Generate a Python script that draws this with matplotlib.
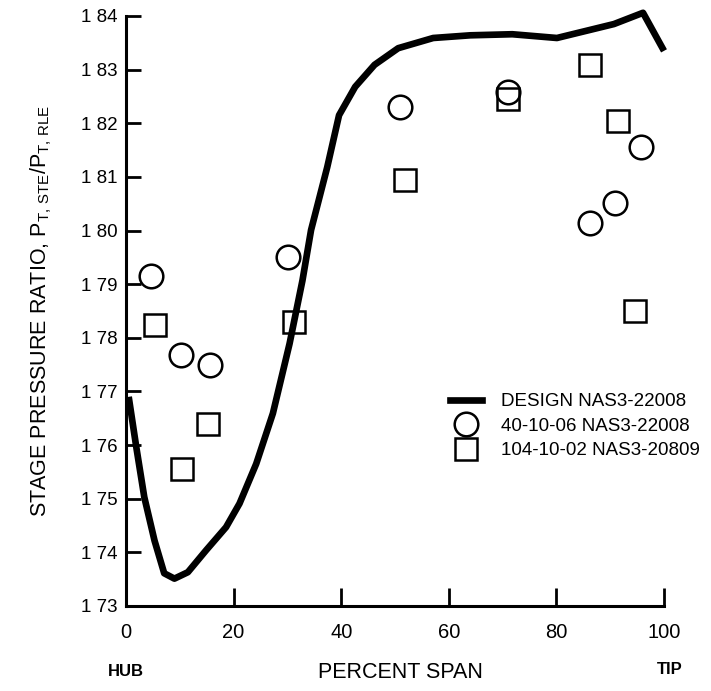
import matplotlib
matplotlib.use("Agg")
import matplotlib.pyplot as plt
from matplotlib.lines import Line2D

plt.rcParams['font.family'] = ['Liberation Sans', 'DejaVu Sans']
plt.rcParams['mathtext.fontset'] = 'custom'
plt.rcParams['mathtext.rm'] = 'Liberation Sans'
plt.rcParams['mathtext.it'] = 'Liberation Sans'

# ---- data ----
design_x = [0.5, 1.9, 3.4, 5.3, 7.1, 9.0, 11.5, 14.9, 18.6, 21.1, 24.2, 27.3, 30.4,
            32.8, 34.4, 37.4, 39.6, 42.6, 46.2, 50.6, 57.1, 64.0, 71.8, 80.1, 90.7,
            96.1, 100.0]
design_y = [1.7690, 1.7597, 1.7503, 1.7422, 1.7361, 1.7351, 1.7363, 1.7404, 1.7447,
            1.7491, 1.7565, 1.7659, 1.7789, 1.7907, 1.8001, 1.8118, 1.8215, 1.8268,
            1.8309, 1.8340, 1.8359, 1.8364, 1.8366, 1.8359, 1.8385, 1.8406, 1.8335]

circle_x = [4.6, 10.2, 15.7, 30.2, 50.9, 71.0, 86.3, 90.8, 95.8]
circle_y = [1.7915, 1.7768, 1.7750, 1.7951, 1.8231, 1.8259, 1.8014, 1.8051, 1.8155]

square_x = [5.45, 10.35, 15.3, 31.3, 51.9, 71.0, 86.3, 91.5, 94.6]
square_y = [1.7823, 1.7556, 1.7640, 1.7830, 1.8095, 1.8246, 1.8309, 1.8205, 1.7850]

x_ticks = [0, 20, 40, 60, 80, 100]
y_ticks = [1.73, 1.74, 1.75, 1.76, 1.77, 1.78, 1.79, 1.80, 1.81, 1.82, 1.83, 1.84]
y_tick_labels = ["1 73", "1 74", "1 75", "1 76", "1 77", "1 78", "1 79",
                 "1 80", "1 81", "1 82", "1 83", "1 84"]

legend_labels = ["DESIGN NAS3-22008", "40-10-06 NAS3-22008", "104-10-02 NAS3-20809"]

# ---- figure ----
fig = plt.figure(figsize=(7.11, 6.91), dpi=100)
ax = fig.add_axes([126/711, 1 - 606/691, (664-126)/711, (606-16)/691])

ax.plot(design_x, design_y, color='black', lw=4.8, solid_capstyle='butt',
        solid_joinstyle='round', clip_on=False, zorder=3)
ax.plot(circle_x, circle_y, linestyle='none', marker='o', ms=17, mfc='none',
        mec='black', mew=1.8, clip_on=False, zorder=4)
ax.plot(square_x, square_y, linestyle='none', marker='s', ms=16, mfc='none',
        mec='black', mew=1.8, clip_on=False, zorder=4)

ax.set_xlim(0, 100)
ax.set_ylim(1.73, 1.84)
ax.set_xticks(x_ticks)
ax.set_xticklabels([str(v) for v in x_ticks])
ax.set_yticks(y_ticks)
ax.set_yticklabels(y_tick_labels)

for s in ['top', 'right']:
    ax.spines[s].set_visible(False)
for s in ['left', 'bottom']:
    ax.spines[s].set_linewidth(2.2)

ax.tick_params(axis='x', direction='in', length=13, width=2, pad=12, labelsize=14.5)
ax.tick_params(axis='y', direction='in', length=11, width=2, pad=6, labelsize=13.5)

ax.set_ylabel(r'STAGE PRESSURE RATIO, P$_{\mathrm{T,\,STE}}$/P$_{\mathrm{T,\,RLE}}$',
              fontsize=15.5)
ax.yaxis.set_label_coords(-72/538, 0.5)

fig.text(400/711, 1 - 672/691, 'PERCENT SPAN', fontsize=15.5, ha='center', va='center')
fig.text(126/711, 1 - 672/691, 'HUB', fontsize=12, fontweight='bold', ha='center', va='center')
fig.text(670/711, 1 - 670/691, 'TIP', fontsize=12, fontweight='bold', ha='center', va='center')

handles = [
    Line2D([], [], color='black', lw=4.8),
    Line2D([], [], linestyle='none', marker='o', ms=17, mfc='none', mec='black', mew=1.8),
    Line2D([], [], linestyle='none', marker='s', ms=16, mfc='none', mec='black', mew=1.8),
]
ax.legend(handles, legend_labels, loc='upper left',
          bbox_to_anchor=((450-126)/538, (606-393)/590),
          frameon=False, fontsize=13.5, handlelength=1.7, handletextpad=1.0,
          labelspacing=0.4, borderpad=0, borderaxespad=0)

fig.savefig('out.png', dpi=100)
